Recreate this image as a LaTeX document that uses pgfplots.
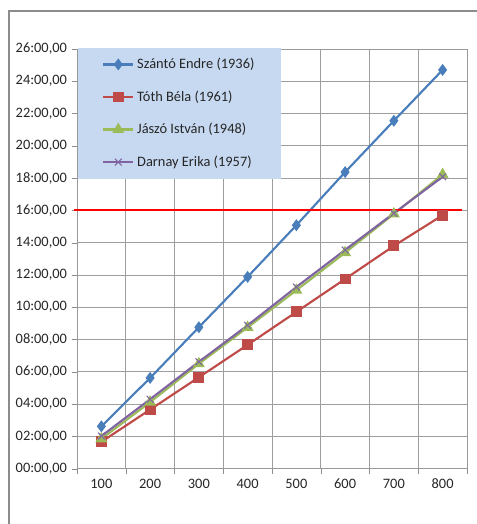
\documentclass[border=0pt]{standalone}
\usepackage{fontspec}
\setmainfont{Carlito}
\usepackage{pgfplots}
\pgfplotsset{compat=1.18}
\definecolor{szanto}{HTML}{4A7EBB}
\definecolor{toth}{HTML}{BE4B48}
\definecolor{jaszo}{HTML}{9BBB59}
\definecolor{darnay}{HTML}{8064A2}
\definecolor{legblue}{HTML}{C6D9F1}
\begin{document}
\begin{tikzpicture}
\useasboundingbox (0,0) rectangle (357.75pt,393pt);
\draw[black!45, line width=0.8pt] (6.75pt,0) -- (6.75pt,384.75pt) -- (357.75pt,384.75pt);
\begin{axis}[
  at={(57.75pt,41.5pt)}, anchor=south west, scale only axis,
  width=292.5pt, height=314.8pt,
  xmin=50, xmax=850, ymin=0, ymax=26,
  xtick={50,150,...,850}, xticklabels={},
  extra x ticks={100,200,...,800},
  extra x tick labels={100,200,300,400,500,600,700,800},
  extra x tick style={grid=none, major tick length=0pt,
    tick label style={anchor=base, yshift=-15pt}},
  ytick={0,2,...,26},
  yticklabels={{00:00,00},{02:00,00},{04:00,00},{06:00,00},{08:00,00},{10:00,00},{12:00,00},{14:00,00},{16:00,00},{18:00,00},{20:00,00},{22:00,00},{24:00,00},{26:00,00}},
  grid=major, grid style={black!38, line width=0.6pt},
  axis line style={black!40, line width=0.6pt}, tick style={black!45},
  tick align=outside, xtick pos=bottom, ytick pos=left, major tick length=4pt,
  ticklabel style={font=\fontsize{10.8}{12}\selectfont, text=black!85},
  /pgf/number format/assume math mode=true,
  clip=false,
  legend cell align=left,
  legend style={at={(rel axis cs:0.002,1.004)}, anchor=north west, fill=legblue, draw=none,
    inner xsep=18pt, inner ysep=6pt, /tikz/row sep=11pt,
    font=\fontsize{10.8}{12}\selectfont, text=black!85},
  legend image code/.code={\draw[mark repeat=2,mark phase=2] plot coordinates {(0cm,0cm) (0.4cm,0cm) (0.8cm,0cm)};},
]
\addplot[szanto, line width=1.6pt, mark=diamond*, mark size=3.2pt] coordinates {
  (100,2.62) (200,5.62) (300,8.76) (400,11.88) (500,15.08) (600,18.37) (700,21.55) (800,24.70)};
\addlegendentry{Szántó Endre (1936)}
\addplot[toth, line width=1.6pt, mark=square*, mark size=3.3pt] coordinates {
  (100,1.66) (200,3.66) (300,5.66) (400,7.67) (500,9.71) (600,11.75) (700,13.80) (800,15.70)};
\addlegendentry{Tóth Béla (1961)}
\addplot[jaszo, line width=1.6pt, mark=triangle*, mark size=3.6pt] coordinates {
  (100,1.85) (200,4.12) (300,6.50) (400,8.75) (500,11.05) (600,13.38) (700,15.78) (800,18.22)};
\addlegendentry{Jászó István (1948)}
\addplot[darnay, line width=1.6pt, mark=x, mark size=3.6pt, mark options={line width=0.8pt}] coordinates {
  (100,2.02) (200,4.30) (300,6.62) (400,8.88) (500,11.25) (600,13.55) (700,15.82) (800,18.08)};
\addlegendentry{Darnay Erika (1957)}
\addplot[red, line width=1.4pt, forget plot] coordinates {(44,16) (840,16)};
\end{axis}
\end{tikzpicture}
\end{document}
